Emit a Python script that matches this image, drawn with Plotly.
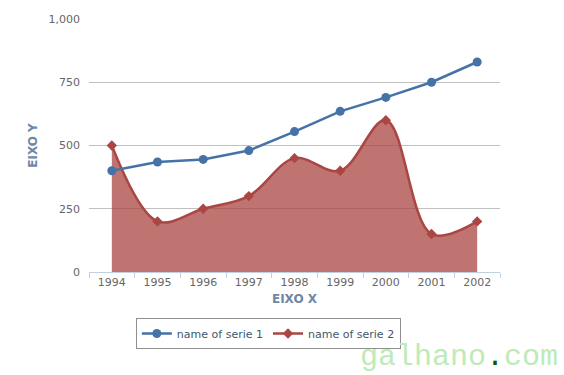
import plotly.graph_objects as go

years = ["1994", "1995", "1996", "1997", "1998", "1999", "2000", "2001", "2002"]
serie1 = [400, 435, 445, 480, 555, 635, 690, 750, 830]
serie2 = [500, 200, 250, 300, 450, 400, 600, 150, 200]
y_ticks = [0, 250, 500, 750, 1000]
y_tick_labels = ["0", "250", "500", "750", "1,000"]

font = "DejaVu Sans"
c1 = "#4572a7"
c2 = "#aa4643"

fig = go.Figure()
fig.add_trace(go.Scatter(
    x=years, y=serie2, name="name of serie 2", showlegend=False,
    mode="lines+markers",
    line=dict(color=c2, width=2.5, shape="spline", smoothing=1.0),
    marker=dict(symbol="diamond", size=8, color=c2),
    fill="tozeroy", fillcolor="rgba(170,70,67,0.75)",
))
fig.add_trace(go.Scatter(
    x=years, y=serie1, name="name of serie 1",
    mode="lines+markers",
    line=dict(color=c1, width=2.5),
    marker=dict(symbol="circle", size=9, color=c1),
))
# legend entry for serie 2 (line + marker look, as in the reference)
fig.add_trace(go.Scatter(
    x=[None], y=[None], name="name of serie 2",
    mode="lines+markers",
    line=dict(color=c2, width=2.5),
    marker=dict(symbol="diamond", size=8, color=c2),
))

fig.update_layout(
    width=564, height=375,
    margin=dict(l=89, r=64, t=19, b=103),
    paper_bgcolor="white", plot_bgcolor="white",
    font=dict(family=font, size=11, color="#666666"),
    showlegend=True,
    legend=dict(
        orientation="h", traceorder="normal",
        x=0.114, y=-0.182, xanchor="left", yanchor="top",
        bordercolor="#909090", borderwidth=1,
        font=dict(family=font, size=11, color="#3e576f"),
        itemwidth=30,
    ),
    xaxis=dict(
        type="category", range=[-0.5, 8.5],
        showgrid=False, showline=True, linecolor="#c0d0e0", linewidth=1,
        ticks="outside", tickson="boundaries", ticklen=5, tickcolor="#c0d0e0",
        tickfont=dict(family=font, size=11, color="#666666"),
        title=dict(text="<b>EIXO X</b>", font=dict(family=font, size=12, color="#6d87a4"), standoff=6),
        fixedrange=True,
    ),
    yaxis=dict(
        range=[0, 1000], tickvals=y_ticks, ticktext=y_tick_labels,
        showgrid=True, gridcolor="#c0c0c0", gridwidth=1,
        zeroline=False, showline=False, ticks="",
        ticklabelstandoff=8,
        tickfont=dict(family=font, size=11, color="#666666"),
        title=dict(text="<b>EIXO Y</b>", font=dict(family=font, size=12, color="#6d87a4"), standoff=8),
        fixedrange=True,
    ),
    annotations=[dict(
        text="galhano<span style='color:#0a5a0a'>.</span>com",
        xref="paper", yref="paper", x=1.0, y=0, xanchor="right", yanchor="bottom",
        xshift=60, yshift=-104,
        showarrow=False,
        font=dict(family="Liberation Mono", size=30, color="#bdebb8"),
    )],
)

fig.write_html("out.html", config={"displayModeBar": False},
               post_script="document.body.style.margin='0';document.body.style.padding='0';")
